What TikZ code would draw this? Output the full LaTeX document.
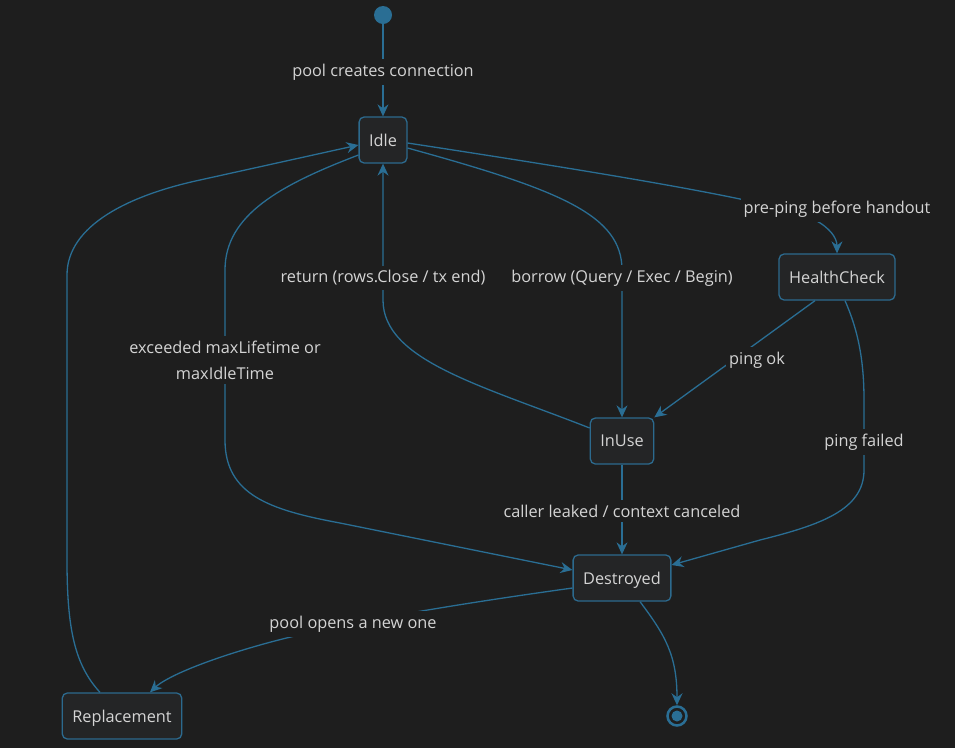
\documentclass[tikz,border=0pt]{standalone}
\usepackage{fontspec}
\setmainfont{Open Sans}
\usetikzlibrary{arrows.meta}
\definecolor{bgc}{HTML}{1E1E1E}
\definecolor{edgec}{HTML}{2A6E94}
\definecolor{boxline}{HTML}{2C6A8E}
\definecolor{boxfill}{HTML}{242526}
\definecolor{txt}{HTML}{D4D4D4}
\pgfdeclarelayer{bgl}
\pgfdeclarelayer{edgel}
\pgfsetlayers{bgl,edgel,main}
\begin{document}
\begin{tikzpicture}[x=1pt,y=-1pt,font=\fontsize{16.3}{26}\selectfont,
  state/.style={draw=boxline,fill=boxfill,line width=1.3pt,rounded corners=5pt,minimum height=46pt,inner xsep=10pt,text depth=0pt,text=txt},
  lbl/.style={fill=bgc,text=txt,inner xsep=3pt,inner ysep=5pt},
  tr/.style={draw=edgec,line width=1.3pt,-{Stealth[length=12pt,width=11pt,inset=4pt]}}]
\useasboundingbox (0,0) rectangle (955,748);
\begin{pgfonlayer}{bgl}
\fill[bgc] (0,0) rectangle (955,748);
\end{pgfonlayer}
% states
\node[circle,fill=edgec,minimum size=18pt,inner sep=0pt] (init) at (383,15) {};
\node[state] (idle) at (383,140) {Idle};
\node[state] (hc) at (837,277) {HealthCheck};
\node[state] (inuse) at (622,441) {InUse};
\node[state] (destroyed) at (622,578) {Destroyed};
\node[state] (replacement) at (122,716) {Replacement};
\node[circle,draw=edgec,line width=2.5pt,minimum size=19pt,inner sep=0pt] (fin) at (677,716) {};
\fill[edgec] (fin) circle (5.5);
% labels
\node[lbl] (lcreate) at (383,72) {pool creates connection};
\node[lbl] (lpre) at (837,209) {pre-ping before handout};
\node[lbl] (lreturn) at (383,278) {return (rows.Close / tx end)};
\node[lbl] (lborrow) at (622,278) {borrow (Query / Exec / Begin)};
\node[lbl,align=center] (lexceed) at (225,360) {exceeded maxLifetime or\\maxIdleTime};
\node[lbl] (lok) at (757,360) {ping ok};
\node[lbl] (lfail) at (864,442) {ping failed};
\node[lbl] (lleak) at (622,511) {caller leaked / context canceled};
\node[lbl] (lnew) at (353,624) {pool opens a new one};
% transitions
\begin{pgfonlayer}{edgel}
\draw[tr] (init) -- (idle);
\draw[tr] ([yshift=-3pt]idle.east) .. controls (650,180) and (790,205) .. (815,220) .. controls (830,228) and (837,238) .. (hc.north);
\draw[tr] ([yshift=-8pt]idle.east) .. controls (560,190) and (622,215) .. (622,270) -- (inuse.north);
\draw[tr] ([yshift=13pt]inuse.west) .. controls (480,385) and (383,360) .. (383,300) -- (idle.south);
\draw[tr] ([yshift=-15pt]idle.west) .. controls (280,185) and (225,215) .. (225,270) -- (225,440) .. controls (225,495) and (270,510) .. (340,523) -- ([yshift=8pt]destroyed.west);
\draw[tr] ([xshift=-22pt]replacement.north) .. controls (75,665) and (67,630) .. (67,560) -- (67,275) .. controls (67,225) and (130,195) .. (200,180) -- ([yshift=-5pt]idle.west);
\draw[tr] ([xshift=-22pt]hc.south) -- (inuse.north east);
\draw[tr] ([xshift=8pt]hc.south) .. controls (858,330) and (864,360) .. (864,400) -- (864,470) .. controls (864,510) and (820,525) .. (760,540) -- ([yshift=13pt]destroyed.east);
\draw[tr] (inuse) -- (destroyed);
\draw[tr] ([yshift=-10pt]destroyed.west) .. controls (450,605) and (330,625) .. (260,645) .. controls (200,662) and (165,678) .. ([xshift=28pt]replacement.north);
\draw[tr] ([xshift=18pt]destroyed.south) .. controls (665,635) and (677,655) .. (fin);
\end{pgfonlayer}
\end{tikzpicture}
\end{document}
